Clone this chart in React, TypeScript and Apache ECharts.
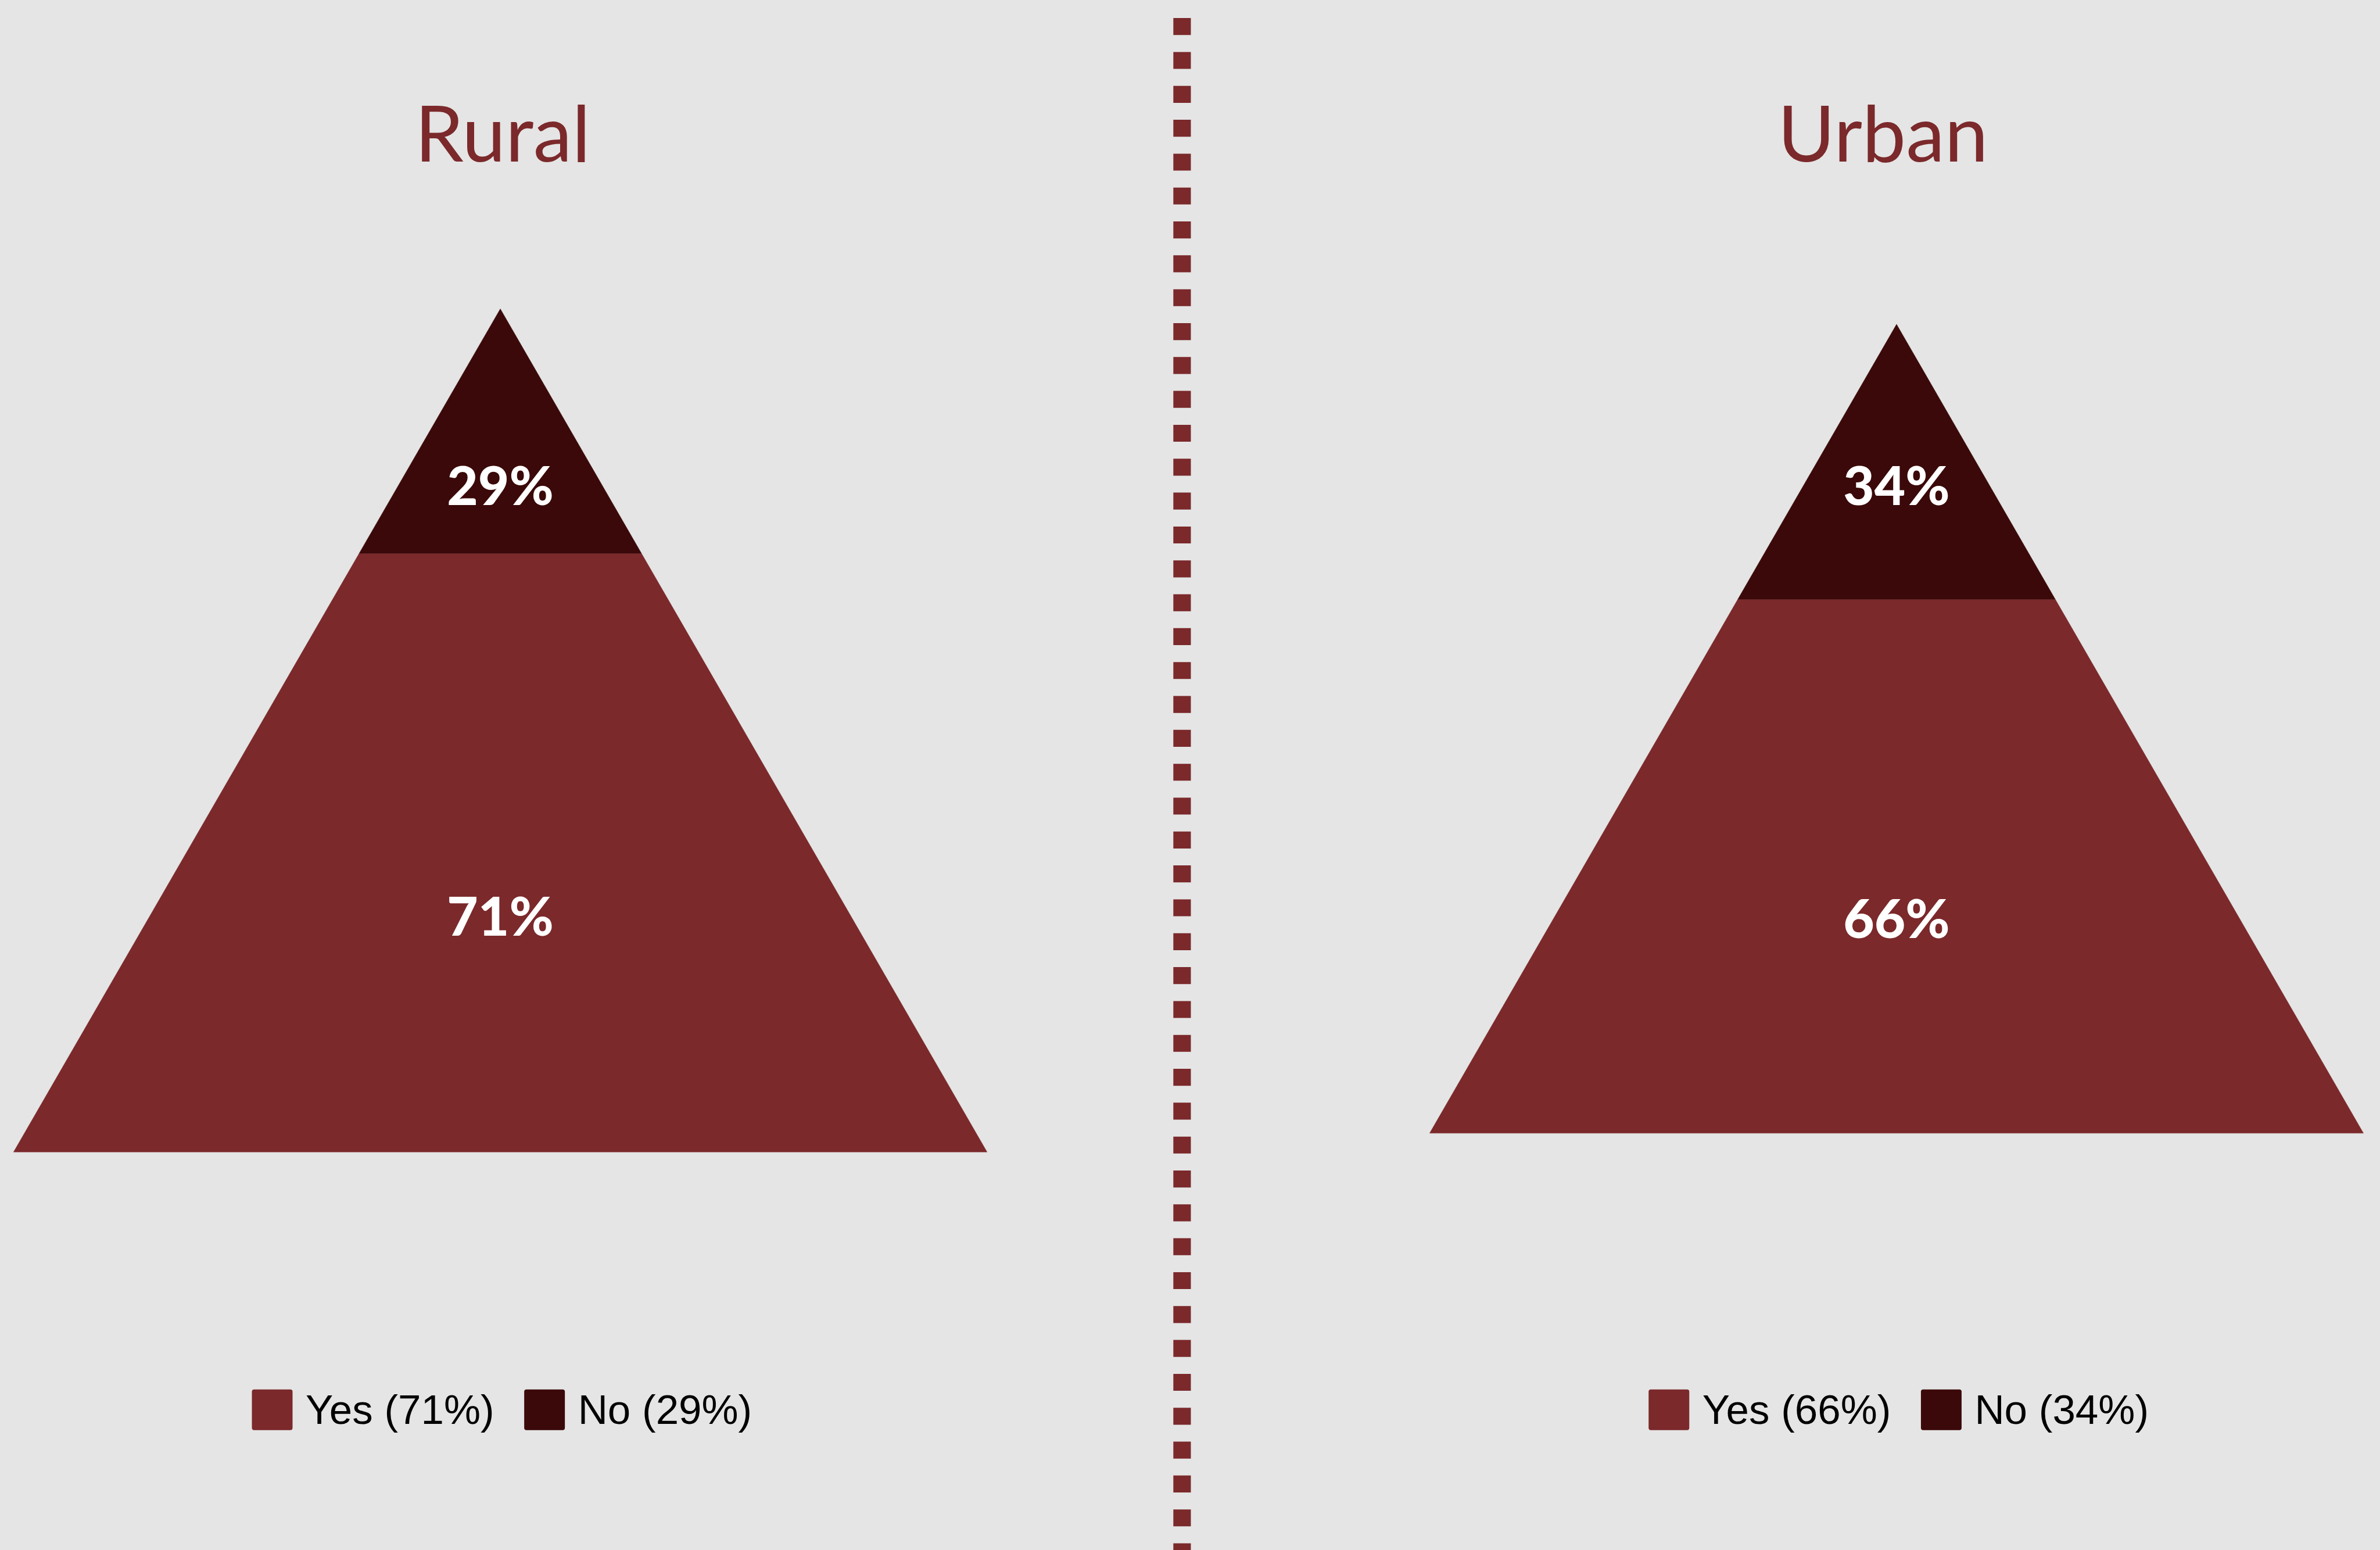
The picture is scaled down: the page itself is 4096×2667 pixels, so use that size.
import React, { useEffect, useRef } from 'react';
import * as echarts from 'echarts';

// ---------- data ----------
const panels = ['Rural', 'Urban'];
const answers = ['Yes', 'No'];
const ruralValues = [71, 29];
const urbanValues = [66, 34];
const valuesByPanel = [ruralValues, urbanValues];

// ---------- layout / style (reference px, scaled by S) ----------
const W = 4096;
const H = 2667;
const S = 0.972;
const BG = '#e5e5e5';
const COLORS = ['#7b292b', '#3b0909'];
const TITLE_COLOR = '#7b292b';

const GRIDS = [
  { left: 24, top: 546.7, width: 1723.7, height: 1492.6 },
  { left: 2531.3, top: 574, width: 1653.4, height: 1432 },
];
const TITLE_X = [890, 3334];
const TITLE_Y = 233;
const LABEL_Y = [
  [28.1, 79.2],
  [26.7, 80.2],
]; // label heights in axis units
const LEGEND_LEFT = [446, 2919];
const LEGEND_TOP = 2459;
const DIVIDER_X = 2093;

const ICON =
  'path://M4,0 H68 Q72,0 72,4 V68 Q72,72 68,72 H4 Q0,72 0,68 V4 Q0,0 4,0 Z';

function buildOption() {
  const series: any[] = [];
  valuesByPanel.forEach((vals, p) => {
    let cum = 0;
    vals.forEach((v, i) => {
      const start = cum;
      const end = cum + v;
      cum = end;
      series.push({
        type: 'custom',
        name: `${answers[i]} (${v}%)`,
        coordinateSystem: 'cartesian2d',
        xAxisIndex: p,
        yAxisIndex: p,
        itemStyle: { color: COLORS[i] },
        clip: false,
        silent: true,
        data: [[start, end, v]],
        renderItem: (params: any, api: any) => {
          const s = api.value(0);
          const e = api.value(1);
          const val = api.value(2);
          const hw = (h: number) => (100 - h) / 2;
          const pts = [
            [-hw(s), s],
            [hw(s), s],
            [hw(e), e],
            [-hw(e), e],
          ].map((pt) => api.coord(pt));
          const lp = api.coord([0, LABEL_Y[p][i]]);
          return {
            type: 'group',
            children: [
              {
                type: 'polygon',
                shape: { points: pts },
                style: { fill: api.visual('color'), stroke: api.visual('color'), lineWidth: 0.5 },
              },
              {
                type: 'text',
                x: lp[0],
                y: lp[1],
                style: {
                  text: `${val}%`,
                  fill: '#ffffff',
                  fontFamily: 'Lato',
                  fontWeight: 900,
                  fontSize: 95 * S,
                  align: 'center',
                  verticalAlign: 'middle',
                },
              },
            ],
          };
        },
      });
    });
  });

  return {
    animation: false,
    backgroundColor: BG,
    grid: GRIDS.map((g) => ({
      left: g.left * S,
      top: g.top * S,
      width: g.width * S,
      height: g.height * S,
      containLabel: false,
    })),
    xAxis: GRIDS.map((_, p) => ({
      type: 'value',
      gridIndex: p,
      min: -50,
      max: 50,
      show: false,
    })),
    yAxis: GRIDS.map((_, p) => ({
      type: 'value',
      gridIndex: p,
      min: 0,
      max: 100,
      show: false,
    })),
    legend: valuesByPanel.map((vals, p) => ({
      data: answers.map((a, i) => `${a} (${vals[i]}%)`),
      left: LEGEND_LEFT[p] * S,
      top: LEGEND_TOP * S,
      orient: 'horizontal',
      padding: 0,
      itemWidth: 72 * S,
      itemHeight: 72 * S,
      itemGap: 53 * S,
      icon: ICON,
      selectedMode: false,
      itemStyle: { borderWidth: 0 },
      textStyle: {
        fontFamily: 'Liberation Sans',
        fontSize: 73 * S,
        color: '#000000',
        padding: [0, 0, 0, 18 * S],
        lineHeight: 72 * S,
      },
    })),
    graphic: [
      {
        type: 'line',
        silent: true,
        shape: { x1: DIVIDER_X * S, y1: 32 * S, x2: DIVIDER_X * S, y2: H + 40 },
        style: {
          stroke: TITLE_COLOR,
          lineWidth: 31 * S,
          lineDash: [30 * S, 30 * S],
          lineCap: 'butt',
        },
      },
      ...panels.map((name, p) => ({
        type: 'text',
        silent: true,
        x: TITLE_X[p] * S,
        y: TITLE_Y * S,
        style: {
          text: name,
          fill: TITLE_COLOR,
          fontFamily: 'Lato',
          fontWeight: 400,
          fontSize: 138 * S,
          align: 'center',
          verticalAlign: 'middle',
        },
      })),
    ],
    series,
  };
}

export default function App() {
  const ref = useRef<HTMLDivElement>(null);
  useEffect(() => {
    if (!ref.current) return;
    const chart = echarts.init(ref.current, null, { renderer: 'svg' });
    chart.setOption(buildOption() as any);
    return () => chart.dispose();
  }, []);
  return (
    <div
      ref={ref}
      style={{ position: 'fixed', left: 0, top: 0, width: W, height: H, background: BG }}
    />
  );
}
